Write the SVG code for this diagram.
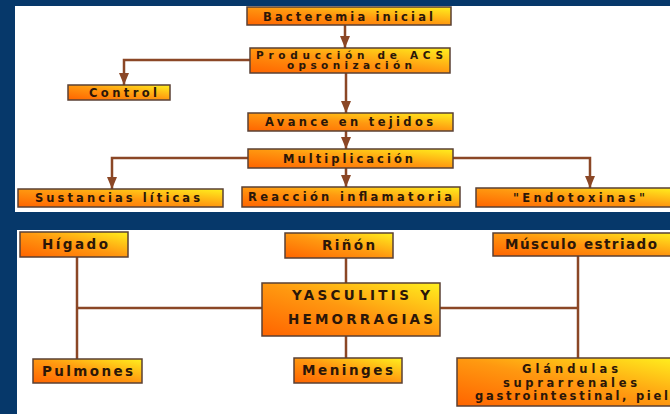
<svg xmlns="http://www.w3.org/2000/svg" width="670" height="414" viewBox="0 0 670 414">
<defs>
<linearGradient id="g" x1="0" y1="1" x2="1" y2="0">
<stop offset="0" stop-color="#FF6400"/>
<stop offset="0.5" stop-color="#FF9810"/>
<stop offset="1" stop-color="#FFF01E"/>
</linearGradient>
<marker id="ah" markerUnits="userSpaceOnUse" markerWidth="13" markerHeight="10" refX="12" refY="5" orient="auto">
<path d="M0,0 L12,5 L0,10 Z" fill="#8B4726"/>
</marker>
</defs>
<style>
.box{fill:url(#g);stroke:#5a4035;stroke-width:1.5}
.t{font-family:"DejaVu Sans","Liberation Sans",sans-serif;font-weight:bold;fill:#2b1608;text-anchor:start}
.s{font-size:11.5px}
.p{font-size:10.5px}
.b{font-size:13.5px}
.g3{font-size:11.5px}
.c{fill:none;stroke:#8B4726;stroke-width:2.5}
.ca{fill:none;stroke:#8B4726;stroke-width:2.5;marker-end:url(#ah)}
</style>
<rect x="0" y="0" width="670" height="414" fill="#06386a"/>
<rect x="15" y="6" width="655" height="206" fill="#ffffff"/>
<rect x="17" y="230" width="653" height="184" fill="#ffffff"/>
<g id="connectors">
<line class="ca" x1="345" y1="25" x2="345" y2="48"/>
<polyline class="ca" points="250,60 124,60 124,85"/>
<line class="ca" x1="346" y1="73" x2="346" y2="113"/>
<line class="ca" x1="346" y1="131" x2="346" y2="149"/>
<line class="ca" x1="346" y1="168" x2="346" y2="187"/>
<polyline class="ca" points="248,158 112,158 112,189"/>
<polyline class="ca" points="453,158 590,158 590,188"/>
<line class="c" x1="77" y1="257" x2="77" y2="359"/>
<line class="c" x1="77" y1="308" x2="262" y2="308"/>
<line class="c" x1="346" y1="258" x2="346" y2="283"/>
<line class="c" x1="346" y1="336" x2="346" y2="358"/>
<line class="c" x1="578" y1="256" x2="578" y2="358"/>
<line class="c" x1="440" y1="308" x2="578" y2="308"/>
</g>
<g id="n-bacteremia"><rect class="box" x="247" y="7" width="204" height="18"/><text class="t s" x="263" y="20.5" textLength="170" lengthAdjust="spacing">Bacteremia inicial</text></g>
<g id="n-produccion"><rect class="box" x="250" y="48" width="200" height="25"/><text class="t p" x="256" y="58.5" textLength="187" lengthAdjust="spacing">Producción de ACS</text><text class="t p" x="287" y="69" textLength="125" lengthAdjust="spacing">opsonización</text></g>
<g id="n-control"><rect class="box" x="68" y="85" width="102" height="15"/><text class="t s" x="89" y="96.5" textLength="68" lengthAdjust="spacing">Control</text></g>
<g id="n-avance"><rect class="box" x="248" y="113" width="205" height="18"/><text class="t s" x="265" y="126" textLength="168" lengthAdjust="spacing">Avance en tejidos</text></g>
<g id="n-multiplicacion"><rect class="box" x="248" y="149" width="205" height="19"/><text class="t s" x="283" y="162.5" textLength="130" lengthAdjust="spacing">Multiplicación</text></g>
<g id="n-sustancias"><rect class="box" x="18" y="189" width="205" height="18"/><text class="t s" x="35" y="202" textLength="165" lengthAdjust="spacing">Sustancias líticas</text></g>
<g id="n-reaccion"><rect class="box" x="242" y="187" width="218" height="20"/><text class="t s" x="248" y="201" textLength="204" lengthAdjust="spacing">Reacción inflamatoria</text></g>
<g id="n-endotoxinas"><rect class="box" x="476" y="188" width="200" height="19"/><text class="t s" x="513" y="201.5" textLength="132" lengthAdjust="spacing">"Endotoxinas"</text></g>
<g id="n-higado"><rect class="box" x="20" y="232" width="108" height="25"/><text class="t b" x="42" y="249" textLength="66" lengthAdjust="spacing">Hígado</text></g>
<g id="n-rinon"><rect class="box" x="285" y="233" width="108" height="25"/><text class="t b" x="322" y="250" textLength="53" lengthAdjust="spacing">Riñón</text></g>
<g id="n-musculo"><rect class="box" x="493" y="233" width="185" height="23"/><text class="t b" x="505" y="249" textLength="152" lengthAdjust="spacing">Músculo estriado</text></g>
<g id="n-vasculitis"><rect class="box" x="262" y="283" width="178" height="53"/><text class="t b" x="292" y="300" textLength="138" lengthAdjust="spacing">YASCULITIS Y</text><text class="t b" x="288" y="324" textLength="145" lengthAdjust="spacing">HEMORRAGIAS</text></g>
<g id="n-pulmones"><rect class="box" x="33" y="359" width="109" height="24"/><text class="t b" x="42" y="376" textLength="91" lengthAdjust="spacing">Pulmones</text></g>
<g id="n-meninges"><rect class="box" x="294" y="358" width="108" height="25"/><text class="t b" x="302" y="375" textLength="91" lengthAdjust="spacing">Meninges</text></g>
<g id="n-glandulas"><rect class="box" x="457" y="358" width="220" height="48"/><text class="t g3" x="522" y="373" textLength="96" lengthAdjust="spacing">Glándulas</text><text class="t g3" x="503" y="386.5" textLength="134" lengthAdjust="spacing">suprarrenales</text><text class="t g3" x="475" y="400" textLength="193" lengthAdjust="spacing">gastrointestinal, piel</text></g>
</svg>
